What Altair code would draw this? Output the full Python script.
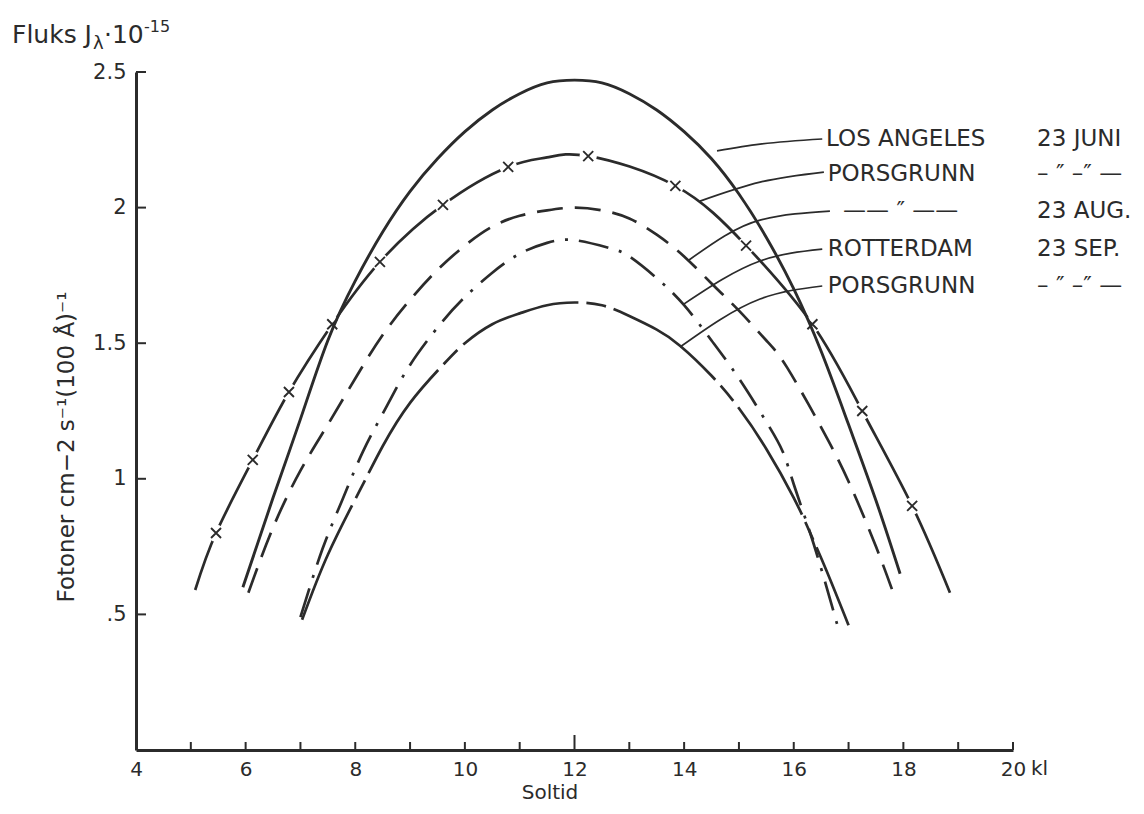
import altair as alt
import pandas as pd

# ---------------- data ----------------
# LOS ANGELES 23 JUNI (solid)
la_x = [5.95, 6.5, 7.0, 7.5, 8.0, 8.5, 9.0, 9.5, 10.0, 10.5, 11.0, 11.5, 12.0,
        12.5, 13.0, 13.5, 14.0, 14.5, 15.0, 15.5, 16.0, 16.5, 17.0, 17.5, 17.94]
la_y = [0.60, 0.93, 1.22, 1.51, 1.73, 1.91, 2.06, 2.18, 2.28, 2.36, 2.42, 2.46, 2.47,
        2.46, 2.42, 2.36, 2.28, 2.18, 2.05, 1.89, 1.70, 1.47, 1.20, 0.92, 0.65]

# PORSGRUNN 23 JUNI (long dashes with x markers)
pj_x = [5.08, 5.46, 6.13, 6.79, 7.58, 8.45, 9.6, 10.79, 11.5, 12.25,
        13.84, 15.13, 16.34, 17.25, 18.16, 18.85]
pj_y = [0.59, 0.80, 1.07, 1.32, 1.57, 1.80, 2.01, 2.15, 2.185, 2.19,
        2.08, 1.86, 1.57, 1.25, 0.90, 0.58]
pj_mark_x = [5.46, 6.13, 6.79, 7.58, 8.45, 9.6, 10.79, 12.25, 13.84, 15.13, 16.34, 17.25, 18.16]
pj_mark_y = [0.80, 1.07, 1.32, 1.57, 1.80, 2.01, 2.15, 2.19, 2.08, 1.86, 1.57, 1.25, 0.90]

# PORSGRUNN 23 AUG. (dashed)
pa_x = [6.05, 6.5, 7.0, 7.5, 8.0, 8.5, 9.0, 9.5, 10.0, 10.5, 11.0, 11.5, 12.0,
        12.5, 13.0, 13.5, 14.0, 14.5, 15.0, 15.5, 15.88, 16.5, 17.0, 17.5, 17.85]
pa_y = [0.58, 0.82, 1.03, 1.20, 1.37, 1.53, 1.66, 1.77, 1.86, 1.93, 1.97, 1.99, 2.00,
        1.99, 1.96, 1.90, 1.82, 1.72, 1.62, 1.51, 1.41, 1.19, 0.99, 0.75, 0.56]

# ROTTERDAM 23 SEP. (dash-dot)
rs_x = [7.0, 7.4, 7.76, 8.14, 8.58, 9.0, 9.55, 10.0, 10.5, 11.0, 11.5, 12.0, 12.65,
        13.0, 13.5, 14.0, 14.5, 15.0, 15.5, 15.8, 16.0, 16.3, 16.6, 16.81]
rs_y = [0.49, 0.74, 0.92, 1.10, 1.27, 1.42, 1.57, 1.67, 1.76, 1.83, 1.87, 1.88, 1.85,
        1.82, 1.74, 1.64, 1.51, 1.37, 1.21, 1.10, 0.98, 0.80, 0.60, 0.45]

# PORSGRUNN 23 SEP. (long dash - short dash)
ps_x = [7.03, 7.5, 8.09, 8.5, 9.0, 9.6, 10.0, 10.5, 11.0, 11.5, 12.0, 12.5, 13.0,
        13.5, 13.93, 14.5, 15.0, 15.5, 16.0, 16.3, 16.6, 17.0]
ps_y = [0.48, 0.72, 0.96, 1.12, 1.28, 1.42, 1.50, 1.57, 1.61, 1.64, 1.65, 1.64, 1.60,
        1.55, 1.49, 1.38, 1.26, 1.11, 0.93, 0.80, 0.66, 0.46]

# legend texts
leg_names = ["LOS ANGELES", "PORSGRUNN", "—— ″ ——", "ROTTERDAM", "PORSGRUNN"]
leg_dates = ["23 JUNI", "– ″ –″ —", "23 AUG.", "23 SEP.", "– ″ –″ —"]
leg_name_x = [16.59, 16.62, 16.90, 16.62, 16.62]
leg_date_x = [20.44, 20.44, 20.44, 20.44, 20.44]
leg_y = [2.253, 2.124, 1.987, 1.847, 1.711]

# leader lines (curve point -> bend -> label)
lead_x = [[14.60, 15.385, 16.52], [14.29, 15.385, 16.55], [14.09, 15.385, 16.66],
          [14.00, 15.385, 16.52], [13.925, 15.385, 16.52]]
lead_y = [[2.209, 2.234, 2.253], [2.024, 2.094, 2.131], [1.807, 1.954, 1.987],
          [1.645, 1.803, 1.847], [1.486, 1.663, 1.711]]

x_labels = [4, 6, 8, 10, 12, 14, 16, 18, 20]
x_minor = [5, 6, 7, 8, 9, 10, 11, 13, 14, 15, 16, 17, 18, 19, 20]
x_long = [12]
y_labels = [0.5, 1, 1.5, 2, 2.5]

# ---------------- chart ----------------
W, H = 877, 678
INK = "#2b2b2b"
FONT = "DejaVu Sans"

x_enc = alt.X("x:Q", scale=alt.Scale(domain=[4, 20], nice=False, zero=False),
              axis=alt.Axis(values=x_labels, title=None, grid=False, ticks=False, tickSize=0,
                            labelPadding=9, labelFontSize=20, labelFont=FONT, labelColor=INK,
                            labelFlush=False, labelOverlap=False,
                            labelExpr="format(datum.value, 'd')",
                            domainColor=INK, domainWidth=3))
y_enc = alt.Y("y:Q", scale=alt.Scale(domain=[0, 2.5], nice=False, zero=False),
              axis=alt.Axis(values=y_labels, title=None, grid=False, ticks=False, tickSize=0,
                            labelPadding=10, labelFontSize=21, labelFont=FONT, labelColor=INK,
                            labelFlush=False, labelOverlap=False,
                            labelExpr="datum.value == 0.5 ? '.5' : format(datum.value, '~g')",
                            domainColor=INK, domainWidth=3))


def df(xs, ys):
    return pd.DataFrame({"x": xs, "y": ys})


def curve(xs, ys, dash=None, width=2.7, interp="natural"):
    kw = dict(color=INK, strokeWidth=width, interpolate=interp, strokeCap="butt")
    if dash:
        kw["strokeDash"] = dash
    return alt.Chart(df(xs, ys)).mark_line(**kw).encode(x=x_enc, y=y_enc)


pj_line = curve(pj_x, pj_y)
pj_gaps = alt.Chart(df(pj_mark_x, pj_mark_y)).mark_point(
    shape="circle", filled=True, color="white", opacity=1, size=300, strokeWidth=0
).encode(x=x_enc, y=y_enc)
pj_marks = alt.Chart(df(pj_mark_x, pj_mark_y)).mark_point(
    shape="M-1,-1L1,1M1,-1L-1,1", filled=False, color=INK, opacity=1, size=100, strokeWidth=1.9
).encode(x=x_enc, y=y_enc)

la_line = curve(la_x, la_y, width=2.9)
pa_line = curve(pa_x, pa_y, dash=[26, 12])
rs_line = curve(rs_x, rs_y, dash=[30, 11, 3, 11])
ps_line = curve(ps_x, ps_y, dash=[125, 8, 20, 8])

lead_rows = []
for i, (lx, ly) in enumerate(zip(lead_x, lead_y)):
    for a, b in zip(lx, ly):
        lead_rows.append({"row": i, "x": a, "y": b})
leaders = alt.Chart(pd.DataFrame(lead_rows)).mark_line(
    color=INK, strokeWidth=1.7, interpolate="monotone"
).encode(x=x_enc, y=y_enc, detail="row:N")

leg_df = pd.DataFrame({
    "x": leg_name_x + leg_date_x,
    "y": leg_y + leg_y,
    "t": leg_names + leg_dates,
})
legend = alt.Chart(leg_df).mark_text(
    align="left", baseline="middle", font=FONT, fontSize=23, color=INK
).encode(x=x_enc, y=y_enc, text="t:N")

ticks_minor = alt.Chart(pd.DataFrame({"x": x_minor})).mark_rule(
    color=INK, strokeWidth=2).encode(x=x_enc, y=alt.value(H), y2=alt.value(H - 8))
ticks_long = alt.Chart(pd.DataFrame({"x": x_long})).mark_rule(
    color=INK, strokeWidth=2).encode(x=x_enc, y=alt.value(H), y2=alt.value(H - 15))
ticks_y = alt.Chart(pd.DataFrame({"y": y_labels})).mark_rule(
    color=INK, strokeWidth=2).encode(y=y_enc, x=alt.value(0), x2=alt.value(10))

kl = alt.Chart(pd.DataFrame({"x": [20], "t": ["kl"]})).mark_text(
    align="left", baseline="top", font=FONT, fontSize=20, color=INK, dx=18
).encode(x=x_enc, y=alt.value(H + 9), text="t:N")

soltid = alt.Chart(pd.DataFrame({"t": ["Soltid"]})).mark_text(
    align="center", baseline="alphabetic", font=FONT, fontSize=20, color=INK
).encode(x=alt.value(414), y=alt.value(727), text="t:N")

ytitle = alt.Chart(pd.DataFrame({"t": ["Fotoner cm−2 s⁻¹(100 Å)⁻¹"]})).mark_text(
    align="center", baseline="middle", font=FONT, fontSize=23, color=INK, angle=270
).encode(x=alt.value(-69), y=alt.value(375), text="t:N")


def piece(text, x, y, size):
    return alt.Chart(pd.DataFrame({"t": [text]})).mark_text(
        align="left", baseline="alphabetic", font=FONT, fontSize=size, color=INK
    ).encode(x=alt.value(x), y=alt.value(y), text="t:N")


title_parts = [
    piece("Fluks J", -124, -29, 25),
    piece("λ", -43, -23, 18),
    piece("·10", -32, -29, 25),
    piece("-15", 8, -40, 16),
]

chart = alt.layer(
    pj_line, pj_gaps, pj_marks, la_line, pa_line, rs_line, ps_line,
    leaders, legend, ticks_minor, ticks_long, ticks_y, kl, soltid, ytitle, *title_parts
).properties(
    width=W, height=H,
    autosize=alt.AutoSizeParams(type="none"),
    padding={"left": 128, "top": 64, "right": 123, "bottom": 56},
    background="white",
).configure_view(stroke=None)

chart.save("out.html", embed_options={"renderer": "svg", "actions": False})
